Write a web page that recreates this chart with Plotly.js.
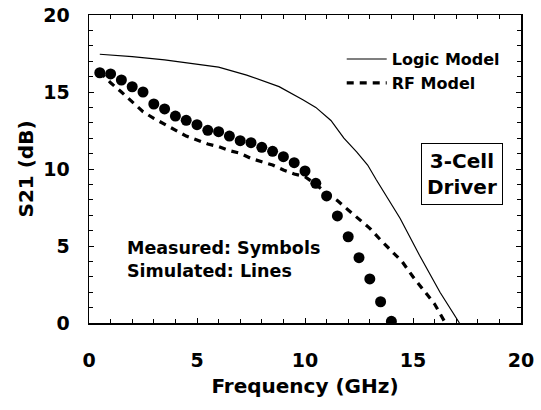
<!DOCTYPE html>
<html><head><meta charset="utf-8">
<script src="https://cdn.plot.ly/plotly-3.0.1.min.js"></script>
<style>html,body{margin:0;padding:0;background:#fff}#c{width:541px;height:410px}</style>
</head><body><div id="c"></div>
<script>
// Measured (symbols)
const measFreq = [0.5,1.0,1.5,2.0,2.5,3.0,3.5,4.0,4.5,5.0,5.5,6.0,6.5,7.0,7.5,8.0,8.5,9.0,9.5,10.0,10.5,11.0,11.5,12.0,12.5,13.0,13.5,14.0];
const measS21  = [16.25,16.17,15.78,15.34,15.0,14.22,13.9,13.44,13.16,12.88,12.51,12.42,12.14,11.84,11.71,11.41,11.15,10.8,10.41,9.87,9.07,8.25,6.95,5.6,4.24,2.86,1.38,0.11];
// RF Model (dashed)
const rfFreq = [0.5,1.0,1.5,2.0,2.5,3.0,3.5,4.0,4.5,5.0,5.5,6.0,6.5,7.0,7.5,8.0,8.5,9.0,9.5,10.0,10.5,11.0,11.5,12.0,12.5,13.0,13.5,14.0,14.5,15.0,15.5,16.0,16.5];
const rfS21  = [16.3,15.6,15.0,14.37,13.72,13.29,12.92,12.53,12.14,11.88,11.62,11.45,11.19,11.02,10.69,10.47,10.26,9.94,9.68,9.5,9.0,8.42,7.95,7.34,6.73,6.15,5.39,4.69,3.98,3.0,2.14,1.23,0.0];
// Logic Model (solid)
const logicFreq = [0.5,2.0,3.5,5.0,6.0,7.3,8.8,9.9,10.5,11.2,11.8,12.4,12.9,13.3,14.4,15.3,16.25,17.15];
const logicS21  = [17.45,17.3,17.08,16.8,16.62,16.1,15.35,14.5,14.0,13.15,12.0,11.1,10.26,9.3,6.8,4.4,2.0,0.0];

const xTitle = "Frequency (GHz)";
const yTitle = "S21 (dB)";
const F = "DejaVu Sans";

const traces = [
  {x: logicFreq, y: logicS21, mode: "lines", name: "<b>Logic Model</b>",
   line: {color: "#000", width: 1.2}, showlegend: true},
  {x: rfFreq, y: rfS21, mode: "lines", name: "<b>RF Model</b>",
   line: {color: "#000", width: 3.2, dash: "7px,6px"}, showlegend: true},
  {x: measFreq, y: measS21, mode: "markers", name: "Measured",
   marker: {color: "#000", size: 11, symbol: "circle"}, showlegend: false}
];

const axBase = {
  showgrid: false, zeroline: false, showline: true, linecolor: "#000", linewidth: 1.5,
  mirror: "allticks", ticks: "inside", ticklen: 5, tickwidth: 1, tickcolor: "#000",
  dtick: 5, tick0: 0,
  minor: {dtick: 1, ticks: "inside", ticklen: 4, tickwidth: 1, tickcolor: "#000"},
  tickfont: {family: F, size: 19, color: "#000", weight: "bold"}
};

const layout = {
  width: 541, height: 410,
  margin: {l: 89, r: 20, t: 15, b: 87},
  paper_bgcolor: "#fff", plot_bgcolor: "#fff",
  xaxis: Object.assign({}, axBase, {range: [0, 20], ticklabelstandoff: 20,
    title: {text: "<b>" + xTitle + "</b>", font: {family: F, size: 20, color: "#000"}, standoff: 8}}),
  yaxis: Object.assign({}, axBase, {range: [0, 20], ticklabelstandoff: 14,
    title: {text: "<b>" + yTitle + "</b>", font: {family: F, size: 20, color: "#000"}, standoff: 4}}),
  showlegend: true,
  legend: {x: 0.585, y: 0.912, xanchor: "left", yanchor: "top", bgcolor: "rgba(0,0,0,0)",
    font: {family: F, size: 16, color: "#000", weight: "bold"}, tracegroupgap: 0, itemwidth: 40},
  annotations: [
    {xref: "paper", yref: "paper", x: 0.958, y: 0.485, xanchor: "right", yanchor: "middle",
     text: "<b>3-Cell<br>Driver</b>", showarrow: false, align: "center",
     font: {family: F, size: 20, color: "#000"},
     bordercolor: "#000", borderwidth: 1, borderpad: 5, bgcolor: "#fff"},
    {xref: "paper", yref: "paper", x: 0.083, y: 0.205, xanchor: "left", yanchor: "middle",
     text: "<b>Measured: Symbols<br>Simulated: Lines</b>", showarrow: false, align: "left",
     font: {family: F, size: 17.5, color: "#000"}}
  ]
};

Plotly.newPlot("c", traces, layout, {displayModeBar: false, staticPlot: true});
</script>
</body></html>
